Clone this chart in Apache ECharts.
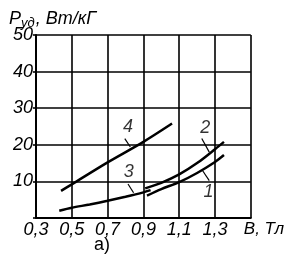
<!DOCTYPE html>
<html>
<head>
<meta charset="utf-8">
<script src="https://cdn.jsdelivr.net/npm/echarts@6/dist/echarts.min.js"></script>
<style>
  html, body { margin: 0; padding: 0; background: #fff; }
  #chart { width: 287px; height: 257px; }
</style>
</head>
<body>
<div id="chart"></div>
<script>
// curves: [B, P]
const curve1 = [[0.92, 6.1], [1.0, 7.9], [1.1, 9.8], [1.2, 12.3], [1.3, 15.3], [1.35, 17.2]]
const curve2 = [[0.91, 8.1], [1.0, 9.6], [1.1, 11.9], [1.2, 15.0], [1.3, 18.8], [1.35, 20.8]]
const curve3 = [[0.43, 2.0], [0.5, 2.8], [0.6, 3.7], [0.7, 4.7], [0.8, 5.8], [0.9, 7.0], [0.94, 7.6]]
const curve4 = [[0.44, 7.4], [0.5, 9.2], [0.7, 15.2], [0.9, 20.8], [1.06, 25.8]]

// curve numbers and their leader strokes
const curveNames = ['1', '2', '3', '4']
const namePos = [[1.263, 7.2], [1.246, 24.5], [0.818, 12.6], [0.814, 25.0]]
const leaders = [
    [[1.231, 12.9], [1.268, 10.2]],
    [[1.226, 21.7], [1.268, 18.0]],
    [[0.814, 9.3], [0.845, 6.9]],
    [[0.796, 21.7], [0.827, 19.4]]
]

const chart = echarts.init(document.getElementById('chart'))
const font = '"Liberation Sans", Arial, sans-serif'

const curveSeries = [curve1, curve2, curve3, curve4].map(d => ({
    type: 'line',
    data: d,
    smooth: 0.3,
    showSymbol: false,
    lineStyle: { color: '#000', width: 2.5 },
    silent: true
}))

const leaderSeries = leaders.map(d => ({
    type: 'line',
    data: d,
    showSymbol: false,
    lineStyle: { color: '#000', width: 1.2 },
    silent: true
}))

const option = {
    animation: false,
    title: [
        {
            text: '{p|P}{s|уд}{p|, Вт/кГ}',
            left: 4,
            top: 3,
            textStyle: {
                rich: {
                    p: { fontFamily: font, fontStyle: 'italic', fontWeight: 'normal', fontSize: 18, color: '#000' },
                    s: { fontFamily: font, fontStyle: 'italic', fontWeight: 'normal', fontSize: 13, color: '#000', padding: [9, 1, 0, 0] }
                }
            }
        },
        {
            text: 'а)',
            left: 89,
            top: 231,
            textStyle: { fontFamily: font, fontSize: 18, fontWeight: 'normal', color: '#000' }
        }
    ],
    grid: { left: 36, right: 33, top: 35, bottom: 39 },
    xAxis: {
        type: 'value',
        min: 0.3,
        max: 1.5,
        interval: 0.2,
        name: 'B, Тл',
        nameLocation: 'end',
        nameGap: -7,
        nameTextStyle: { fontFamily: font, fontStyle: 'italic', fontSize: 17, color: '#000', verticalAlign: 'top', padding: [3, 0, 0, 0] },
        axisLine: { lineStyle: { color: '#000', width: 2 } },
        axisTick: { show: false },
        axisLabel: {
            margin: 3,
            fontFamily: font, fontStyle: 'italic', fontSize: 18, color: '#000',
            formatter: v => Math.abs(v - 1.5) < 1e-6 ? '' : v.toFixed(1).replace('.', ',')
        },
        splitLine: { show: true, lineStyle: { color: '#000', width: 1.6 } }
    },
    yAxis: {
        type: 'value',
        min: 0,
        max: 50,
        interval: 10,
        axisLine: { show: true, lineStyle: { color: '#000', width: 2 } },
        axisTick: { show: true, length: 3, lineStyle: { color: '#000', width: 1.6 } },
        axisLabel: {
            margin: 3,
            padding: [4, 0, 0, 0],
            fontFamily: font, fontStyle: 'italic', fontSize: 18, color: '#000',
            formatter: v => v === 0 ? '' : String(v)
        },
        splitLine: { show: true, lineStyle: { color: '#000', width: 1.6 } }
    },
    series: [
        ...curveSeries,
        ...leaderSeries,
        {
            type: 'scatter',
            symbolSize: 0,
            silent: true,
            data: namePos.map((p, i) => ({ value: p, name: curveNames[i] })),
            label: {
                show: true,
                position: 'inside',
                formatter: p => p.name,
                fontFamily: font, fontStyle: 'italic', fontSize: 18, color: '#000'
            }
        }
    ]
}

chart.setOption(option)
</script>
</body>
</html>
